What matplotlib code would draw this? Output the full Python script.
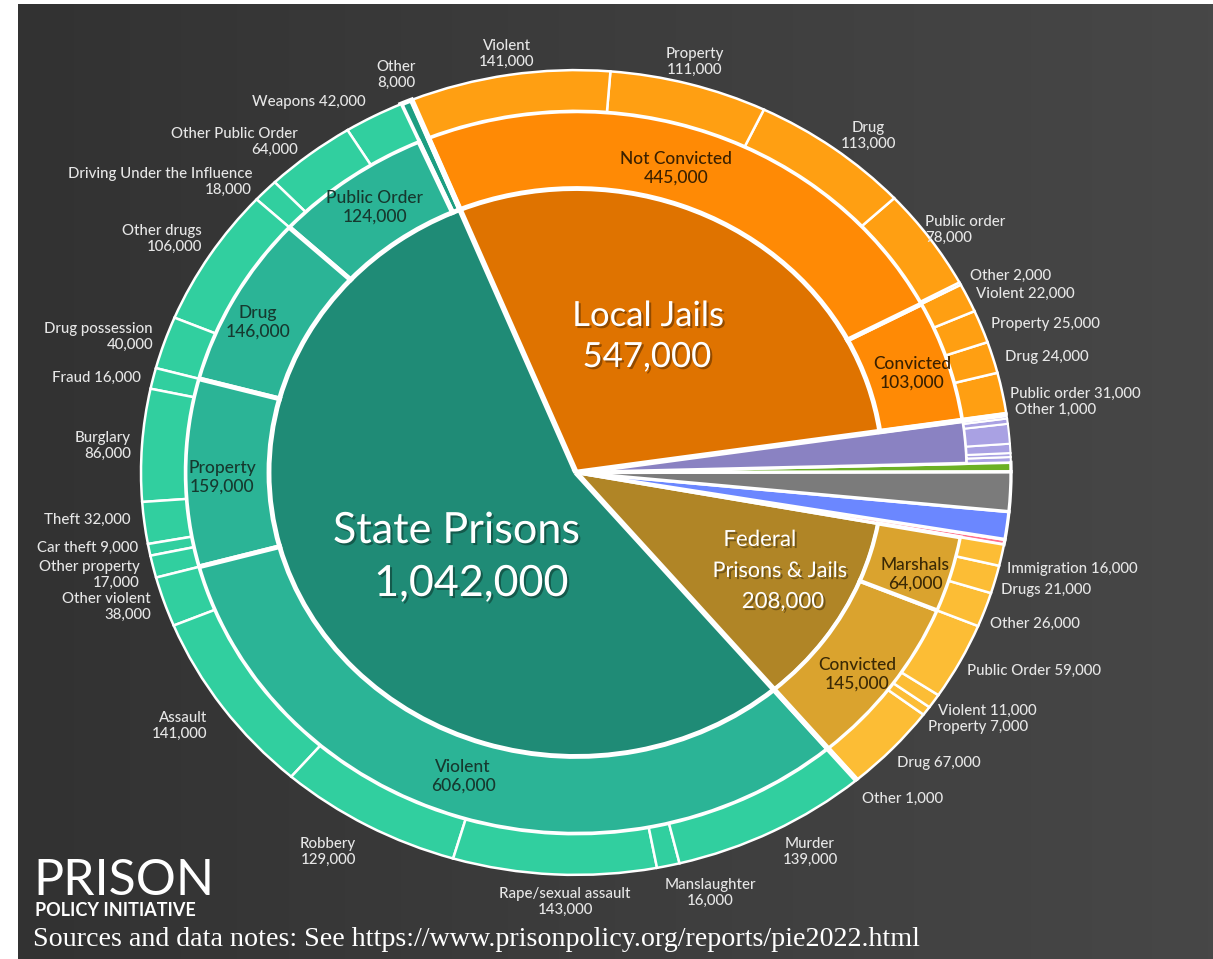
import numpy as np
import matplotlib.pyplot as plt
import matplotlib.patheffects as pe
from matplotlib.colors import LinearSegmentedColormap

# ── DATA (thousands of people) ───────────────────────────────────────────────
# inner pie, counterclockwise from the State / Local boundary
inner_names = ['State Prisons', 'Federal Prisons & Jails', 'Other A', 'Other B',
               'Other C', 'Other D', 'Youth', 'Local Jails']
inner_values = [1042, 208, 4, 21, 30, 7, 36, 547]

state_mid_names = ['Other', 'Public Order', 'Drug', 'Property', 'Violent']
state_mid_values = [8, 124, 146, 159, 606]
state_po_names = ['Weapons', 'Other Public Order', 'Driving Under the Influence']
state_po_values = [42, 64, 18]
state_drug_names = ['Other drugs', 'Drug possession']
state_drug_values = [106, 40]
state_prop_names = ['Fraud', 'Burglary', 'Theft', 'Car theft', 'Other property']
state_prop_values = [16, 86, 32, 9, 17]
state_viol_names = ['Other violent', 'Assault', 'Robbery', 'Rape/sexual assault',
                    'Manslaughter', 'Murder']
state_viol_values = [38, 141, 129, 143, 16, 139]

fed_mid_names = ['Convicted', 'Marshals']
fed_mid_values = [145, 64]
fed_conv_names = ['Other', 'Drug', 'Property', 'Violent', 'Public Order']
fed_conv_values = [1, 67, 7, 11, 59]
fed_marsh_names = ['Other', 'Drugs', 'Immigration']
fed_marsh_values = [26, 21, 16]

youth_values = [4, 3, 7, 15, 4, 3]

local_mid_names = ['Convicted', 'Not Convicted']
local_mid_values = [103, 445]
local_conv_names = ['Other', 'Public order', 'Drug', 'Property', 'Violent']
local_conv_values = [1, 31, 24, 25, 22]
local_nc_names = ['Other', 'Public order', 'Drug', 'Property', 'Violent']
local_nc_values = [2, 78, 113, 111, 141]

# ── LAYOUT ───────────────────────────────────────────────────────────────────
W, H = 1213, 959
K = 0.925                      # the picture is squashed vertically
CX, CY = 576, (H - 472.5) / K
R_IN, R_MID, R_OUT = 307, 391, 435
A0 = 112.2

# colours
STATE_IN, STATE_MID, STATE_OUT, STATE_OTHER = '#1f8b76', '#2bb496', '#31cf9f', '#1c9e82'
LOCAL_IN, LOCAL_MID, LOCAL_OUT = '#df7300', '#ff8a05', '#ff9f12'
FED_IN, FED_MID, FED_OUT = '#b08526', '#daa32e', '#fcbd35'
inner_colors = [STATE_IN, FED_IN, '#ff6f8c', '#6b87ff', '#7b7b7b', '#6cb024',
                '#8a82c2', LOCAL_IN]
PURPLE_OUT = '#a9a1e3'

fig = plt.figure(figsize=(W / 100, H / 100), dpi=100)
fig.patch.set_facecolor('white')
ax = fig.add_axes([0, 0, 1, 1])

# background gradient
bg = LinearSegmentedColormap.from_list('bg', ['#323232', '#3d3d3d', '#474747'])
ax.imshow(np.linspace(0, 1, 256).reshape(1, -1), cmap=bg, aspect='auto',
          extent=(18, W, 0, (H - 4) / K), zorder=0)


def split(values, a0, span):
    tot = sum(values)
    out, a = [], a0
    for v in values:
        s = span * v / tot
        out.append((a, s))
        a += s
    return out


def ring(values, colors, a0, span, r, width, lw):
    tot = sum(values)
    fr = [span * v / tot / 360 for v in values]
    rest = max(1 - sum(fr), 0)
    wedges, _ = ax.pie(fr + [rest], colors=list(colors) + ['none'], startangle=a0,
                       counterclock=True, radius=r, center=(CX, CY), frame=True,
                       wedgeprops=dict(width=width, edgecolor='white', linewidth=lw))
    wedges[-1].set_visible(False)
    for w in wedges:
        w.set_zorder(2)
    return wedges


# inner pie
inner_sp = split(inner_values, A0, 360)
w = ring(inner_values, inner_colors, A0, 360, R_IN, R_IN, 2.4)
for i in (2, 3, 4, 5):
    w[i].set_radius(R_OUT)
    w[i].set_width(R_OUT)
w[6].set_radius(R_MID)
w[6].set_width(R_MID)

# state
a, s = inner_sp[0]
sm = ring(state_mid_values, [STATE_OTHER] + [STATE_MID] * 4, a, s, R_MID, R_MID - R_IN, 3.5)
sm[0].set_radius(R_OUT)
sm[0].set_width(R_OUT - R_IN)
state_mid_sp = split(state_mid_values, a, s)
state_children = [None, state_po_values, state_drug_values, state_prop_values, state_viol_values]
for sp, ch in zip(state_mid_sp[1:], state_children[1:]):
    ring(ch, [STATE_OUT] * len(ch), sp[0], sp[1], R_OUT, R_OUT - R_MID, 1.8)

# federal
a, s = inner_sp[1]
ring(fed_mid_values, [FED_MID] * 2, a, s, R_MID, R_MID - R_IN, 3.0)
fed_mid_sp = split(fed_mid_values, a, s)
for sp, ch in zip(fed_mid_sp, [fed_conv_values, fed_marsh_values]):
    ring(ch, [FED_OUT] * len(ch), sp[0], sp[1], R_OUT, R_OUT - R_MID, 1.8)

# youth
a, s = inner_sp[6]
ring(youth_values, [PURPLE_OUT] * len(youth_values), a, s, R_OUT, R_OUT - R_MID, 1.5)

# local
a, s = inner_sp[7]
ring(local_mid_values, [LOCAL_MID] * 2, a, s, R_MID, R_MID - R_IN, 3.5)
local_mid_sp = split(local_mid_values, a, s)
for sp, ch in zip(local_mid_sp, [local_conv_values, local_nc_values]):
    ring(ch, [LOCAL_OUT] * len(ch), sp[0], sp[1], R_OUT, R_OUT - R_MID, 1.8)

# thick white lines between the big groups
for idx in (0, 1, 7):
    ang = np.deg2rad(inner_sp[idx][0])
    ax.plot([CX, CX + R_OUT * np.cos(ang)], [CY, CY + R_OUT * np.sin(ang)],
            color='white', lw=4, solid_capstyle='butt', zorder=3)

ax.set_aspect('auto')
ax.set_xlim(0, W)
ax.set_ylim(0, H / K)
ax.axis('off')


# ── TEXT ─────────────────────────────────────────────────────────────────────
def txt(x, y, s, size=10.8, color='#e6e6e6', ha='center', weight='medium', va='center', **kw):
    fig.text(x / W, 1 - y / H, s, fontsize=size, color=color, ha=ha, va=va,
             family='Lato', weight=weight, linespacing=1.2, **kw)


def lab(name, v, two):
    return name + ('\n' if two else ' ') + f'{v * 1000:,}'


# outer labels: (x, y, ha, two lines)
state_po_pos = [(366, 102, 'right', 0), (298, 142, 'right', 1), (252, 182, 'right', 1)]
state_drug_pos = [(202, 239, 'right', 1), (153, 337, 'right', 1)]
state_prop_pos = [(141, 378, 'right', 0), (131, 446, 'right', 1), (130, 520, 'right', 0),
                  (138, 548, 'right', 0), (140, 575, 'right', 1)]
state_viol_pos = [(151, 607, 'right', 1), (207, 726, 'right', 1), (328, 852, 'center', 1),
                  (565, 902, 'center', 1), (710, 893, 'center', 1), (810, 852, 'center', 1)]
fed_conv_pos = [(862, 799, 'left', 0), (897, 763, 'left', 0), (928, 727, 'left', 0),
                (938, 711, 'left', 0), (967, 671, 'left', 0)]
fed_marsh_pos = [(990, 624, 'left', 0), (1001, 590, 'left', 0), (1007, 569, 'left', 0)]
local_conv_pos = [(1015, 410, 'left', 0), (1010, 394, 'left', 0), (1005, 357, 'left', 0),
                  (991, 324, 'left', 0), (976, 294, 'left', 0)]
local_nc_pos = [(970, 276, 'left', 0), (925, 230, 'left', 1), (868, 136, 'center', 1),
                (695, 62, 'center', 1), (507, 54, 'center', 1)]

groups = [(state_po_names, state_po_values, state_po_pos),
          (state_drug_names, state_drug_values, state_drug_pos),
          (state_prop_names, state_prop_values, state_prop_pos),
          (state_viol_names, state_viol_values, state_viol_pos),
          (fed_conv_names, fed_conv_values, fed_conv_pos),
          (fed_marsh_names, fed_marsh_values, fed_marsh_pos),
          (local_conv_names, local_conv_values, local_conv_pos),
          (local_nc_names, local_nc_values, local_nc_pos)]
for names, vals, pos in groups:
    for n, v, (x, y, ha, two) in zip(names, vals, pos):
        txt(x, y, lab(n, v, two), ha=ha)
txt(396, 75, lab(state_mid_names[0], state_mid_values[0], 1))

# middle ring labels
DARK_G, DARK_O, DARK_F = '#16392f', '#3a2000', '#3a2905'
for n, v, (x, y) in zip(state_mid_names[1:], state_mid_values[1:],
                        [(375, 207), (258, 322), (222, 477), (463, 776)]):
    txt(x, y, lab(n, v, 1), size=12.5, color=DARK_G)
for n, v, (x, y) in zip(local_mid_names, local_mid_values, [(912, 373), (676, 168)]):
    txt(x, y, lab(n, v, 1), size=12.5, color=DARK_O)
for n, v, (x, y) in zip(fed_mid_names, fed_mid_values, [(857, 674), (915, 574)]):
    txt(x, y, lab(n, v, 1), size=12.5, color=DARK_F)

# main labels
shadow = [pe.SimplePatchShadow(offset=(1.5, -1.5), shadow_rgbFace='black', alpha=0.35),
          pe.Normal()]
txt(456, 531, inner_names[0], size=31, color='white', weight='normal', path_effects=shadow)
txt(471, 584, f'{inner_values[0] * 1000:,}', size=31, color='white', weight='normal',
    path_effects=shadow)
txt(648, 316, inner_names[7], size=25, color='white', weight='normal', path_effects=shadow)
txt(647, 357, f'{inner_values[7] * 1000:,}', size=25, color='white', weight='normal',
    path_effects=shadow)
txt(760, 540, 'Federal', size=16, color='white', weight='normal', path_effects=shadow)
txt(780, 571, 'Prisons & Jails', size=15.5, color='white', weight='normal', path_effects=shadow)
txt(783, 602, f'{inner_values[1] * 1000:,}', size=16, color='white', weight='normal',
    path_effects=shadow)

# logo and source
txt(33, 895, 'PRISON', size=36, color='white', ha='left', weight='normal', va='baseline')
txt(35, 916, 'POLICY INITIATIVE', size=13, color='white', ha='left', weight='bold',
    va='baseline')
fig.text(33 / W, 1 - 940 / H,
         'Sources and data notes: See https://www.prisonpolicy.org/reports/pie2022.html',
         fontsize=20.2, color='white', family='Liberation Serif', ha='left', va='center')

fig.savefig('out.png', dpi=100, facecolor=fig.get_facecolor())
